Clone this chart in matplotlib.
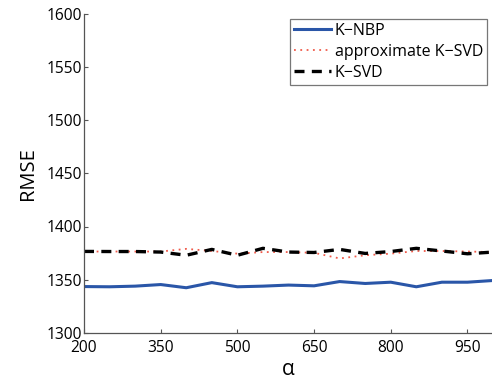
import matplotlib
matplotlib.use("Agg")
import matplotlib.pyplot as plt

plt.rcParams['font.family'] = ['Open Sans', 'DejaVu Sans']

alpha = [200, 250, 300, 350, 400, 450, 500, 550, 600, 650, 700, 750, 800, 850, 900, 950, 1000]
k_nbp = [1343.6, 1343.4, 1344.0, 1345.5, 1342.5, 1347.3, 1343.4, 1344.0, 1345.0, 1344.3, 1348.3, 1346.5, 1347.7, 1343.4, 1347.7, 1347.7, 1349.3]
approx_ksvd = [1376.5, 1376.5, 1376.5, 1376.5, 1379.0, 1377.0, 1374.5, 1376.0, 1376.0, 1375.3, 1370.0, 1373.0, 1374.5, 1377.0, 1377.0, 1376.5, 1376.0]
ksvd = [1376.6, 1376.5, 1376.5, 1376.0, 1373.0, 1378.5, 1373.0, 1379.5, 1376.0, 1375.6, 1378.5, 1374.7, 1376.5, 1379.5, 1377.0, 1374.4, 1376.0]
xticks = [200, 350, 500, 650, 800, 950]
yticks = [1300, 1350, 1400, 1450, 1500, 1550, 1600]

fig = plt.figure(figsize=(4.92, 3.79), dpi=100)
ax = fig.add_axes([84/492, 1-333/379, (493-84)/492, (333-13.5)/379])

ax.plot(alpha, k_nbp, color='#2a56a8', lw=2.2, label='K\u2212NBP')
ax.plot(alpha, approx_ksvd, color='#f05a4a', lw=1.3, ls=(0, (1, 2.5)), label='approximate K\u2212SVD')
ax.plot(alpha, ksvd, color='black', lw=2.4, ls=(0, (3, 2.2)), label='K\u2212SVD')

ax.set_xlim(200, 1000)
ax.set_ylim(1300, 1600)
ax.set_xticks(xticks)
ax.set_yticks(yticks)
ax.tick_params(direction='in', length=3, width=0.8, color='#555555', labelsize=11.2)
ax.tick_params(axis='x', pad=5)
ax.tick_params(axis='y', pad=1.5)
for s in ['top', 'right']:
    ax.spines[s].set_visible(False)
for s in ['left', 'bottom']:
    ax.spines[s].set_color('#555555')
    ax.spines[s].set_linewidth(0.9)
ax.set_ylabel('RMSE', fontsize=14.5, labelpad=6)
ax.set_xlabel('\u03b1', fontsize=15, labelpad=2)

leg = ax.legend(loc='upper right', fontsize=11.5, frameon=True, fancybox=False, handlelength=2.3,
                handletextpad=0.25, borderpad=0.25, labelspacing=0.3, borderaxespad=0)
leg.set_bbox_to_anchor((487/492, 1-19/379), transform=fig.transFigure)
leg.get_frame().set_edgecolor('#555555')
leg.get_frame().set_linewidth(0.9)

fig.savefig('out.png', dpi=100)
